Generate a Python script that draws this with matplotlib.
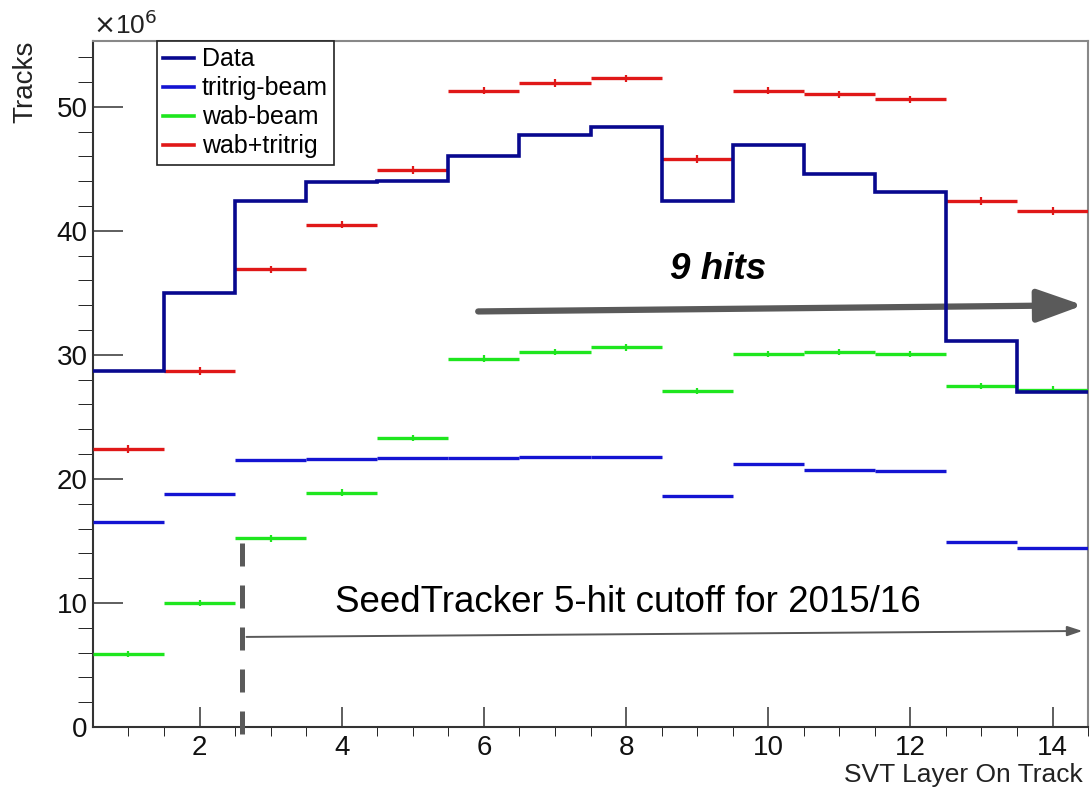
import numpy as np
import matplotlib.pyplot as plt

plt.rcParams['font.family'] = ['Liberation Sans', 'DejaVu Sans']

# SVT layers on track (bin centres) and track counts in units of 1e6
layers = np.arange(1, 15)
data = [28.7, 35.0, 42.4, 43.9, 44.0, 46.0, 47.7, 48.4, 42.4, 46.9, 44.6, 43.1, 31.1, 27.0]
tritrig_beam = [16.5, 18.8, 21.5, 21.6, 21.7, 21.7, 21.8, 21.8, 18.6, 21.2, 20.7, 20.6, 14.9, 14.4]
wab_beam = [5.9, 10.0, 15.2, 18.9, 23.3, 29.7, 30.2, 30.6, 27.1, 30.1, 30.2, 30.1, 27.5, 27.2]
wab_tritrig = [22.4, 28.7, 36.9, 40.5, 44.9, 51.3, 51.9, 52.3, 45.8, 51.3, 51.0, 50.6, 42.4, 41.6]
err_tritrig = 0.3
err_wab = 0.25

c_data = '#08088f'
c_tritrig = '#1414d2'
c_wab = '#1ee61e'
c_sum = '#e01818'
c_arrow = '#5a5a5a'

fig = plt.figure(figsize=(10.91, 7.89), dpi=100)
ax = fig.add_axes([0.0852, 0.0786, 0.9121, 0.8694])

edges = np.append(layers - 0.5, layers[-1] + 0.5)

def hist_points(vals, err, color):
    vals = np.asarray(vals)
    ax.hlines(vals, edges[:-1], edges[1:], colors=color, lw=2.4, zorder=3)
    if err:
        ax.vlines(layers, vals - err, vals + err, colors=color, lw=1.6, zorder=3)
    return ax.plot([], [], color=color, lw=2.6)[0]

h_tri = hist_points(tritrig_beam, 0, c_tritrig)
h_wab = hist_points(wab_beam, err_wab, c_wab)
h_sum = hist_points(wab_tritrig, err_tritrig, c_sum)
h_data = ax.stairs(data, edges, baseline=None, color=c_data, lw=2.6, zorder=4)

ax.set_xlim(0.5, 14.5)
ax.set_ylim(0, 55.3)
ax.set_xticks(np.arange(2, 15, 2))
ax.set_xticks(np.arange(1, 14.6, 0.5), minor=True)
ax.set_yticks(np.arange(0, 51, 10))
ax.set_yticks(np.arange(0, 55, 2), minor=True)
ax.tick_params(labelsize=20, colors='#333333', direction='in', width=1.1)
ax.tick_params(axis='x', which='major', length=14.5, pad=6)
ax.tick_params(axis='x', which='minor', length=6.5)
ax.tick_params(axis='y', which='major', length=21.5, pad=4)
ax.tick_params(axis='y', which='minor', length=10.5)
ax.tick_params(labelcolor='#111111')
for side in ['left', 'bottom']:
    ax.spines[side].set_color('#333333')
    ax.spines[side].set_linewidth(1.5)
for side in ['top', 'right']:
    ax.spines[side].set_color('#888888')
    ax.spines[side].set_linewidth(1.5)

leg = ax.legend([h_data, h_tri, h_wab, h_sum],
                ['Data', 'tritrig-beam', 'wab-beam', 'wab+tritrig'],
                loc='upper left', bbox_to_anchor=(0.064, 1.0), borderaxespad=0,
                fontsize=18, fancybox=False, framealpha=1, edgecolor='#222222',
                handlelength=1.25, handletextpad=0.3, labelspacing=0.2,
                borderpad=0.25)
leg.get_frame().set_linewidth(1.2)

ax.text(0.0, 1.003, r'$\times$10$^6$', transform=ax.transAxes, fontsize=19,
        ha='left', va='bottom', color='#222222')
fig.text(0.023, 0.948, 'Tracks', rotation=90, ha='center', va='top', fontsize=20,
         color='#222222')
fig.text(0.9927, 1 - 782 / 789, 'SVT Layer On Track', ha='right', va='baseline',
         fontsize=19, color='#222222')

# 9-hit arrow
ax.annotate('', xy=(14.43, 34.0), xytext=(5.92, 33.5),
            arrowprops=dict(arrowstyle='-|>,head_length=1.4,head_width=0.5',
                            mutation_scale=20, lw=4.5, color=c_arrow,
                            shrinkA=0, shrinkB=0), annotation_clip=False)
ax.text(9.29, 36.9, '9 hits', fontsize=26.5, fontweight='bold', fontstyle='italic',
        ha='center', va='center')

# SeedTracker cutoff
ax.plot([2.6, 2.6], [14.8, -0.7], color=c_arrow, lw=3.6, dashes=(4.6, 3.8),
        clip_on=False, zorder=5)
ax.annotate('', xy=(14.42, 7.74), xytext=(2.66, 7.26),
            arrowprops=dict(arrowstyle='-|>,head_length=0.6,head_width=0.2',
                            mutation_scale=15, lw=1.4, color=c_arrow,
                            shrinkA=0, shrinkB=0), annotation_clip=False)
ax.text(8.03, 10.0, 'SeedTracker 5-hit cutoff for 2015/16', fontsize=26.5,
        ha='center', va='center')

fig.savefig('out.png', dpi=100)
